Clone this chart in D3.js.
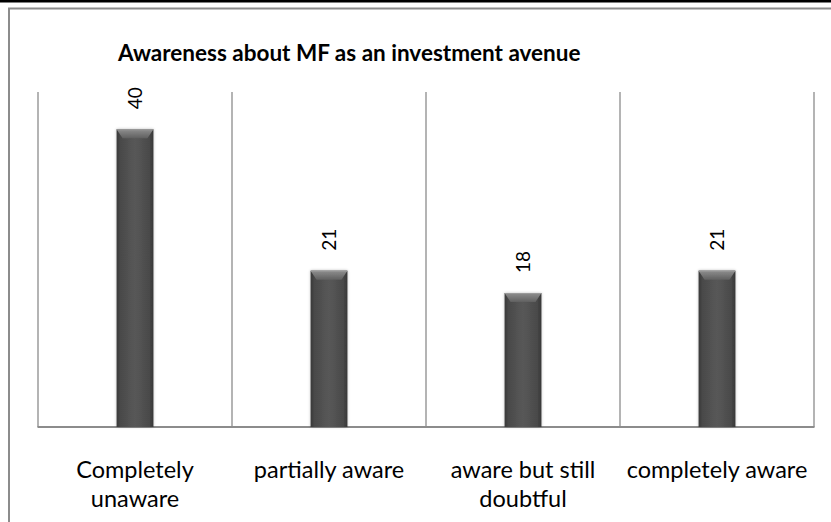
<!DOCTYPE html>
<html>
<head>
<meta charset="utf-8">
<script src="https://cdn.jsdelivr.net/npm/d3@7"></script>
<style>
  html, body { margin: 0; padding: 0; background: #fff; }
  svg { display: block; }
</style>
</head>
<body>
<svg id="chart" width="831" height="522"></svg>
<script>
// Survey responses: awareness about mutual funds as an investment avenue
const categories = [
  ["Completely", "unaware"],
  ["partially aware"],
  ["aware but still", "doubtful"],
  ["completely aware"]
];
const values = [40, 21, 18, 21];
const yDomain = [0, 45];
const chartTitle = "Awareness about MF as an investment avenue";

const W = 831, H = 522;
const plot = { left: 38, right: 814, top: 92, bottom: 427 };
const font = "Lato, 'Open Sans', sans-serif";

const svg = d3.select("#chart");

// gradients for the bevelled bars
const defs = svg.append("defs");
const body = defs.append("linearGradient").attr("id", "barBody")
  .attr("x1", "0").attr("x2", "1").attr("y1", "0").attr("y2", "0");
[[0, "#3a3a3a"], [0.12, "#4a4a4a"], [0.5, "#585858"], [0.88, "#4a4a4a"], [1, "#363636"]]
  .forEach(([o, c]) => body.append("stop").attr("offset", o).attr("stop-color", c));
const bevel = defs.append("linearGradient").attr("id", "barBevel")
  .attr("x1", "0").attr("x2", "0").attr("y1", "0").attr("y2", "1");
[[0, "#8e8e8e"], [1, "#606060"]]
  .forEach(([o, c]) => bevel.append("stop").attr("offset", o).attr("stop-color", c));
const glow = defs.append("filter").attr("id", "barShadow")
  .attr("x", "-30%").attr("y", "-10%").attr("width", "160%").attr("height", "120%");
glow.append("feGaussianBlur").attr("in", "SourceAlpha").attr("stdDeviation", 1.6).attr("result", "b");
glow.append("feComponentTransfer").attr("in", "b").attr("result", "s")
  .append("feFuncA").attr("type", "linear").attr("slope", 0.25);
const merge = glow.append("feMerge");
merge.append("feMergeNode").attr("in", "s");
merge.append("feMergeNode").attr("in", "SourceGraphic");

// page frame: black rule on top, grey chart border
svg.append("rect").attr("x", 0).attr("y", 0).attr("width", W).attr("height", 2.5).attr("fill", "#000");
svg.append("path")
  .attr("d", `M9,${H} V8.5 H${W}`)
  .attr("fill", "none").attr("stroke", "#8c8c8c").attr("stroke-width", 2);

const x = d3.scaleBand().domain(d3.range(categories.length))
  .range([plot.left, plot.right]).paddingInner(0).paddingOuter(0);
const y = d3.scaleLinear().domain(yDomain).range([plot.bottom, plot.top]);

// vertical separators between categories and the plot frame
const bounds = d3.range(categories.length + 1).map(i =>
  i < categories.length ? x(i) : x(categories.length - 1) + x.bandwidth());
svg.append("g").selectAll("line").data(bounds).join("line")
  .attr("x1", d => d).attr("x2", d => d)
  .attr("y1", y(yDomain[1])).attr("y2", y(0))
  .attr("stroke", "#8c8c8c").attr("stroke-width", 1.3);
svg.append("line")
  .attr("x1", plot.left - 0.5).attr("x2", plot.right + 0.5)
  .attr("y1", y(0)).attr("y2", y(0))
  .attr("stroke", "#8c8c8c").attr("stroke-width", 1.8);

// bars
const bw = x.bandwidth() * 0.19;
const bevelH = 9;
const bars = svg.append("g").selectAll("g").data(values).join("g")
  .attr("transform", (d, i) => `translate(${x(i) + x.bandwidth() / 2 - bw / 2},0)`)
  .attr("filter", "url(#barShadow)");
bars.append("rect")
  .attr("x", 0).attr("width", bw)
  .attr("y", d => y(d)).attr("height", d => y(0) - y(d))
  .attr("fill", "url(#barBody)");
bars.append("path")
  .attr("d", d => {
    const t = y(d), inset = 6;
    return `M0,${t} H${bw} L${bw - inset},${t + bevelH} H${inset} Z`;
  })
  .attr("fill", "url(#barBevel)");
bars.append("line")
  .attr("x1", 0.5).attr("x2", bw - 0.5)
  .attr("y1", d => y(d) + 0.5).attr("y2", d => y(d) + 0.5)
  .attr("stroke", "#9a9a9a").attr("stroke-width", 1);

// value labels, rotated
svg.append("g").selectAll("text").data(values).join("text")
  .attr("transform", (d, i) => `translate(${x(i) + x.bandwidth() / 2 + 7},${y(d) - 20}) rotate(-90)`)
  .attr("font-family", font).attr("font-size", 19).attr("fill", "#000")
  .text(d => d);

// category labels
const labels = svg.append("g").selectAll("text").data(categories).join("text")
  .attr("x", (d, i) => x(i) + x.bandwidth() / 2)
  .attr("y", 478)
  .attr("text-anchor", "middle")
  .attr("font-family", font).attr("font-size", 23.5).attr("fill", "#000");
labels.selectAll("tspan").data(d => d).join("tspan")
  .attr("x", function () { return this.parentNode.getAttribute("x"); })
  .attr("dy", (d, j) => j === 0 ? 0 : 29)
  .text(d => d);

// title
svg.append("text")
  .attr("x", 118).attr("y", 61)
  .attr("font-family", font).attr("font-size", 22.5).attr("font-weight", "bold")
  .attr("fill", "#000")
  .text(chartTitle);
</script>
</body>
</html>
